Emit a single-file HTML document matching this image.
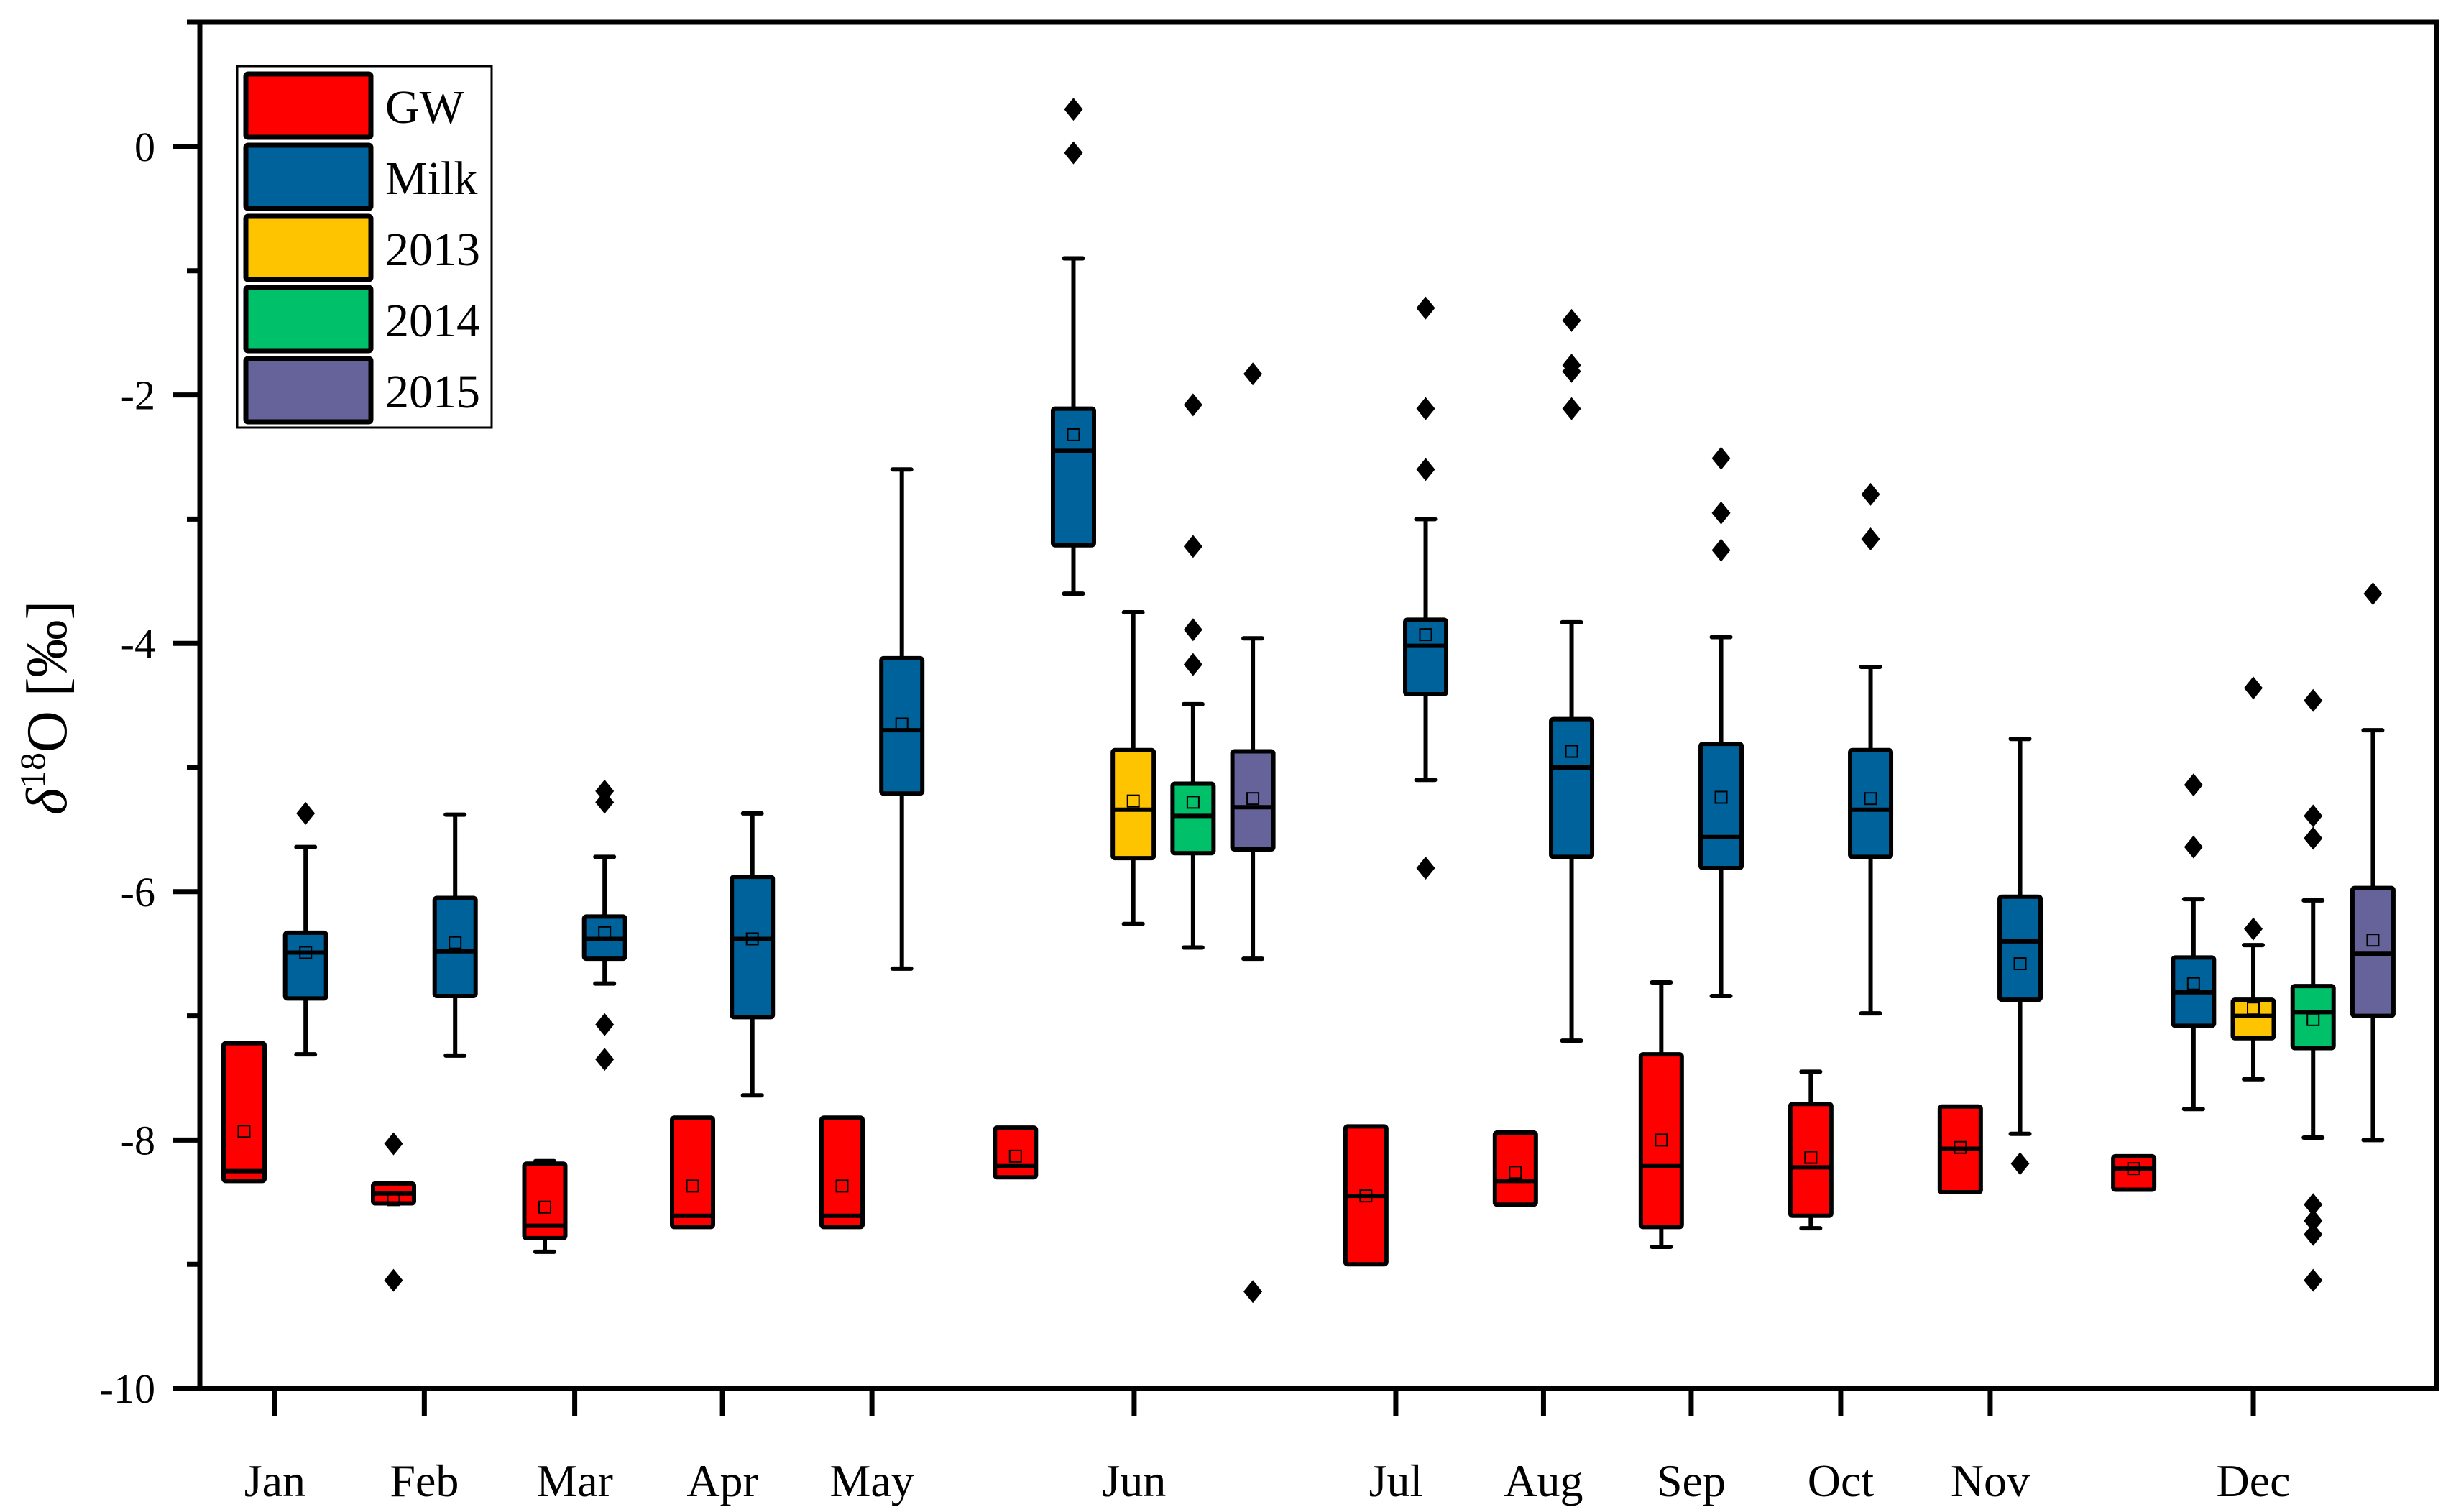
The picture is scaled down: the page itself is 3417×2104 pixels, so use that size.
<!DOCTYPE html>
<html><head><meta charset="utf-8"><style>
html,body{margin:0;padding:0;background:#fff;}
svg{display:block;font-family:"Liberation Serif",serif;}
</style></head><body>
<svg id="chart" width="3417" height="2104" viewBox="0 0 3417 2104" xmlns="http://www.w3.org/2000/svg"></svg>
<script>
// ---- data ----
const months = ["Jan","Feb","Mar","Apr","May","Jun","Jul","Aug","Sep","Oct","Nov","Dec"];
const boxSeries = ["GW","Milk","GW","Milk","GW","Milk","GW","Milk","GW","Milk","GW","Milk","2013","2014","2015","GW","Milk","GW","Milk","GW","Milk","GW","Milk","GW","Milk","GW","Milk","2013","2014","2015"];
const boxMonth = [0,0,1,1,2,2,3,3,4,4,5,5,5,5,5,6,6,7,7,8,8,9,9,10,10,11,11,11,11,11];
const boxSlot = [0,1.03,2.5,3.53,5.03,6.03,7.5,8.5,10,11,12.9,13.87,14.87,15.87,16.87,18.76,19.76,21.26,22.2,23.7,24.7,26.2,27.2,28.7,29.7,31.6,32.6,33.6,34.6,35.6];
const whiskLow = [-8.33,-7.31,-8.51,-7.32,-8.9,-6.74,-8.7,-7.64,-8.7,-6.62,-8.3,-3.6,-6.26,-6.45,-6.54,-9.0,-5.1,-8.52,-7.2,-8.86,-6.84,-8.71,-6.98,-8.42,-7.95,-8.4,-7.75,-7.51,-7.98,-8.0];
const q1 = [-8.33,-6.86,-8.51,-6.84,-8.79,-6.54,-8.7,-7.01,-8.7,-5.21,-8.3,-3.21,-5.73,-5.69,-5.66,-9.0,-4.41,-8.52,-5.72,-8.7,-5.81,-8.61,-5.72,-8.42,-6.87,-8.4,-7.08,-7.18,-7.26,-7.0];
const median = [-8.25,-6.49,-8.43,-6.48,-8.69,-6.38,-8.61,-6.38,-8.61,-4.70,-8.21,-2.45,-5.34,-5.39,-5.32,-8.45,-4.02,-8.33,-5.0,-8.21,-5.56,-8.22,-5.34,-8.07,-6.4,-8.23,-6.81,-7.0,-6.97,-6.5];
const q3 = [-7.22,-6.33,-8.35,-6.05,-8.19,-6.2,-7.82,-5.88,-7.82,-4.12,-7.9,-2.11,-4.86,-5.13,-4.87,-7.89,-3.81,-7.94,-4.61,-7.31,-4.81,-7.71,-4.86,-7.73,-6.04,-8.13,-6.53,-6.87,-6.76,-5.97];
const whiskHigh = [-7.22,-5.64,-8.35,-5.38,-8.17,-5.72,-7.82,-5.37,-7.82,-2.6,-7.9,-0.9,-3.75,-4.49,-3.96,-7.89,-3.0,-7.94,-3.83,-6.73,-3.95,-7.45,-4.19,-7.73,-4.77,-8.13,-6.06,-6.43,-6.07,-4.7];
const means = [-7.93,-6.49,-8.48,-6.41,-8.54,-6.33,-8.37,-6.38,-8.37,-4.65,-8.13,-2.32,-5.27,-5.28,-5.25,-8.45,-3.93,-8.26,-4.87,-8.0,-5.24,-8.14,-5.25,-8.06,-6.58,-8.23,-6.74,-6.94,-7.03,-6.39];
const outliers = [[],[-5.37],[-8.03,-9.13],[],[],[-5.19,-5.28,-7.07,-7.35],[],[],[],[],[],[0.3,-0.05],[],[-2.08,-3.22,-3.89,-4.17],[-1.83,-9.22],[],[-1.3,-2.11,-2.6,-5.81],[],[-1.4,-1.76,-1.81,-2.11],[],[-2.51,-2.95,-3.25],[],[-2.8,-3.16],[],[-8.19],[],[-5.14,-5.64],[-4.36,-6.3],[-4.46,-5.39,-5.57,-8.52,-8.65,-8.76,-9.13],[-3.6]];
const yTicks = [0,-2,-4,-6,-8,-10];
const legendItems = ["GW","Milk","2013","2014","2015"];
</script>
<script>
const colors = {"GW":"#ff0000","Milk":"#00629b","2013":"#ffc400","2014":"#00c16a","2015":"#66639b"};
const svg = document.getElementById('chart');
const NS = "http://www.w3.org/2000/svg";
const L=278, R=3390, T=31, B=1932;
function y(v){ return 204 + (-v)*172.8; }
function x(s){ return 339.5 + s*83.2; }
function mk(tag, attrs, parent){ const e=document.createElementNS(NS,tag); for(const k in attrs) e.setAttribute(k,attrs[k]); (parent||svg).appendChild(e); return e; }

const n = boxSeries.length;
const BW=57, CAP=26, SW=6;
for(let i=0;i<n;i++){
  const g = mk('g',{});
  
  
  const cx = x(boxSlot[i]);
  if (whiskHigh[i] > q3[i] + 0.01){
    mk('line',{x1:cx,x2:cx,y1:y(whiskHigh[i]),y2:y(q3[i]),stroke:'#000','stroke-width':SW},g);
    mk('line',{x1:cx-CAP/2,x2:cx+CAP/2,y1:y(whiskHigh[i]),y2:y(whiskHigh[i]),stroke:'#000','stroke-width':SW,'stroke-linecap':'round'},g);
  }
  if (whiskLow[i] < q1[i] - 0.01){
    mk('line',{x1:cx,x2:cx,y1:y(q1[i]),y2:y(whiskLow[i]),stroke:'#000','stroke-width':SW},g);
    mk('line',{x1:cx-CAP/2,x2:cx+CAP/2,y1:y(whiskLow[i]),y2:y(whiskLow[i]),stroke:'#000','stroke-width':SW,'stroke-linecap':'round'},g);
  }
  mk('rect',{x:cx-BW/2,y:y(q3[i]),width:BW,height:Math.max(2,y(q1[i])-y(q3[i])),fill:colors[boxSeries[i]],stroke:'#000','stroke-width':SW,rx:3},g);
  mk('line',{x1:cx-BW/2,x2:cx+BW/2,y1:y(median[i]),y2:y(median[i]),stroke:'#000','stroke-width':SW},g);
  mk('rect',{x:cx-8,y:y(means[i])-8,width:16,height:16,fill:'none',stroke:'#000','stroke-width':2},g);
  (outliers[i]||[]).forEach(v=>{
    const yy=y(v);
    const d = mk('polygon',{points:`${cx},${yy-16} ${cx+13},${yy} ${cx},${yy+16} ${cx-13},${yy}`,fill:'#000'},g);
    
    
  });
}

// axes
const ax = mk('g',{});


mk('line',{x1:L,x2:L,y1:T-3,y2:B+3,stroke:'#000','stroke-width':7},ax);
mk('line',{x1:260,x2:R+3,y1:T,y2:T,stroke:'#000','stroke-width':7},ax);
mk('line',{x1:R,x2:R,y1:T,y2:B,stroke:'#000','stroke-width':7},ax);
mk('line',{x1:241,x2:R+3,y1:B,y2:B,stroke:'#000','stroke-width':7},ax);
for(let v=-1; v>=-9; v-=2){ mk('line',{x1:260,x2:L,y1:y(v),y2:y(v),stroke:'#000','stroke-width':7},ax); }
yTicks.forEach(v=>{
  mk('line',{x1:241,x2:L,y1:y(v),y2:y(v),stroke:'#000','stroke-width':7},ax);
  const t = mk('text',{x:216,y:y(v)+20,'text-anchor':'end','font-size':58},ax);
  t.textContent = v;
  
  
});
months.forEach((m,mi)=>{
  const idx=[]; boxMonth.forEach((b,i)=>{ if(b===mi) idx.push(boxSlot[i]); });
  const cx = x((Math.min(...idx)+Math.max(...idx))/2);
  mk('line',{x1:cx,x2:cx,y1:B,y2:1971,stroke:'#000','stroke-width':7},ax);
  const t = mk('text',{x:cx,y:2082,'text-anchor':'middle','font-size':64},ax);
  t.textContent = m;
  
  
});
const yt = mk('text',{x:0,y:0,transform:'translate(92,985) rotate(-90)','text-anchor':'middle','font-size':80});


yt.innerHTML = '<tspan font-style="italic">δ</tspan><tspan font-size="50" dy="-30">18</tspan><tspan dy="30">O [‰]</tspan>';

// legend
const lg = mk('g',{});


mk('rect',{x:330,y:92,width:354,height:503,fill:'#fff',stroke:'#000','stroke-width':3},lg);
legendItems.forEach((k,i)=>{
  const e = mk('g',{},lg);
  
  
  const yy = 103 + i*99;
  mk('rect',{x:342,y:yy,width:174,height:88,fill:colors[k],stroke:'#000','stroke-width':7,rx:3},e);
  const t = mk('text',{x:536,y:yy+68,'font-size':66},e);
  t.textContent = k;
});
</script>
</body></html>
